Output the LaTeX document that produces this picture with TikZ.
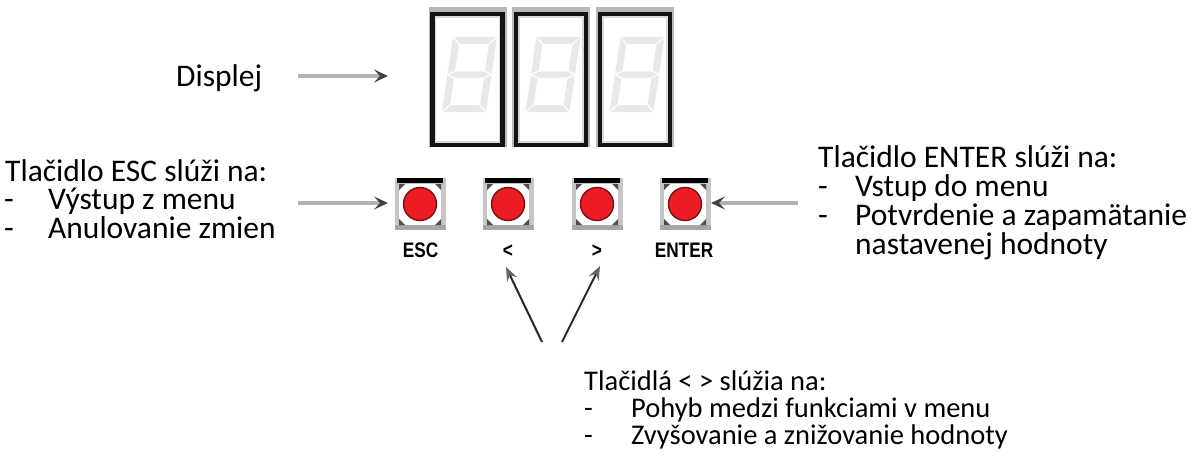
\documentclass[tikz,border=0pt]{standalone}
\usepackage{fontspec}
\setmainfont{Carlito}
\newfontfamily\lblfont[FakeStretch=0.82]{Liberation Sans}
\usetikzlibrary{arrows.meta}
\definecolor{btnred}{RGB}{237,28,36}
\definecolor{btnring}{RGB}{120,20,24}
\definecolor{seggray}{RGB}{232,232,235}
\begin{document}
\begin{tikzpicture}[x=1pt,y=-1pt,
  txt/.style={anchor=base west,inner sep=0pt,font=\fontsize{31.5}{30}\selectfont},
  txtb/.style={anchor=base west,inner sep=0pt,font=\fontsize{28.5}{28}\selectfont},
  lbl/.style={anchor=base,inner sep=0pt,font=\lblfont\bfseries\fontsize{21}{21}\selectfont},
  grayarrow/.style={line width=4pt,draw=gray!60,-{Stealth[length=14pt,width=13pt,inset=6pt,color=black!75]}},
  thinarrow/.style={line width=2pt,draw=black!85,-{Stealth[length=14pt,width=11pt,inset=5pt,color=black!60]}}]
\useasboundingbox (0,0) rectangle (1203,463);
% display boxes
\foreach \cx/\nm in {467.5/dA,551/dB,635/dC}{
  \fill[gray!55] (\cx-39,7) rectangle (\cx+39,147);
  \fill[white] (\cx-33,15) rectangle (\cx+33,141);
  \draw[line width=4.5pt,black!92] (\cx-35,14) rectangle (\cx+35,145);
  \draw[line width=1.5pt,gray!30] (\cx-32,17) rectangle (\cx+32,142);
  \begin{scope}[shift={(\cx-25.5,112)},x=1pt,y={(0.1467pt,1pt)}]
    \fill[seggray] (1,75) -- (43,75) -- (36,68) -- (8,68) -- cycle;
    \fill[seggray] (1,0) -- (43,0) -- (36,7) -- (8,7) -- cycle;
    \fill[seggray] (0,74) -- (7,67) -- (7,41.5) -- (0,38.5) -- cycle;
    \fill[seggray] (44,74) -- (37,67) -- (37,41.5) -- (44,38.5) -- cycle;
    \fill[seggray] (0,36.5) -- (7,33.5) -- (7,8) -- (0,1) -- cycle;
    \fill[seggray] (44,36.5) -- (37,33.5) -- (37,8) -- (44,1) -- cycle;
    \fill[seggray] (1.5,37.5) -- (8,34.5) -- (36,34.5) -- (42.5,37.5) -- (36,40.5) -- (8,40.5) -- cycle;
  \end{scope}
  \coordinate (\nm) at (\cx,77);
}
% buttons
\foreach \bx/\nm in {420/bEsc,508/bLeft,597/bRight,685/bEnter}{
  \fill[gray!45] (\bx-25.5,178) rectangle (\bx+25.5,230);
  \fill[white] (\bx-21,184) rectangle (\bx+21,225);
  \fill[black] (\bx-23,178) rectangle (\bx+23,183);
  \fill[gray!70] (\bx-25.5,225) rectangle (\bx+25.5,230);
  \fill[black!70] (\bx-21,184) -- (\bx-15,184) -- (\bx-21,190) -- cycle;
  \fill[black!70] (\bx+21,184) -- (\bx+15,184) -- (\bx+21,190) -- cycle;
  \fill[black!70] (\bx-21,225) -- (\bx-15,225) -- (\bx-21,219) -- cycle;
  \fill[black!70] (\bx+21,225) -- (\bx+15,225) -- (\bx+21,219) -- cycle;
  \node[circle,minimum size=33pt,inner sep=0pt,fill=btnred,draw=btnring,line width=1.5pt] (\nm) at (\bx,204) {};
}
% button labels
\node[lbl] (lEsc) at (420.5,257) {ESC};
\node[lbl] (lLeft) at (508,257) {<};
\node[lbl] (lRight) at (597,257) {>};
\node[lbl] (lEnter) at (684,257) {ENTER};
% texts
\node[txt] (tDisp) at (176,86) {Displej};
\node[txt] (tEsc1) at (5,181) {Tlačidlo ESC slúži na:};
\node[txt] (tEsc2d) at (4,209) {-};
\node[txt] (tEsc2) at (48,209) {Výstup z menu};
\node[txt] (tEsc3d) at (4,238) {-};
\node[txt] (tEsc3) at (48,238) {Anulovanie zmien};
\node[txt] (tEnt1) at (818,167) {Tlačidlo ENTER slúži na:};
\node[txt] (tEnt2d) at (818,196) {-};
\node[txt] (tEnt2) at (855,196) {Vstup do menu};
\node[txt] (tEnt3d) at (818,225) {-};
\node[txt] (tEnt3) at (855,225) {Potvrdenie a zapamätanie};
\node[txt] (tEnt4) at (855,254) {nastavenej hodnoty};
\node[txtb] (tArr1) at (584,390) {Tlačidlá < > slúžia na:};
\node[txtb] (tArr2d) at (584,417) {-};
\node[txtb] (tArr2) at (631,417) {Pohyb medzi funkciami v menu};
\node[txtb] (tArr3d) at (584,444) {-};
\node[txtb] (tArr3) at (631,444) {Zvyšovanie a znižovanie hodnoty};
% arrows
\coordinate (aDispS) at (298,76);
\coordinate (aDispT) at (388,76);
\coordinate (aEscS) at (298,203);
\coordinate (aEscT) at (388,203);
\coordinate (aEntS) at (798,203);
\coordinate (aEntT) at (711,203);
\coordinate (aLS) at (542,342);
\coordinate (aLT) at (506,267);
\coordinate (aRS) at (562,342);
\coordinate (aRT) at (600,266);
\draw[grayarrow] (aDispS) -- (aDispT);
\draw[grayarrow] (aEscS) -- (aEscT);
\draw[grayarrow] (aEntS) -- (aEntT);
\draw[thinarrow] (aLS) -- (aLT);
\draw[thinarrow] (aRS) -- (aRT);
\end{tikzpicture}
\end{document}
